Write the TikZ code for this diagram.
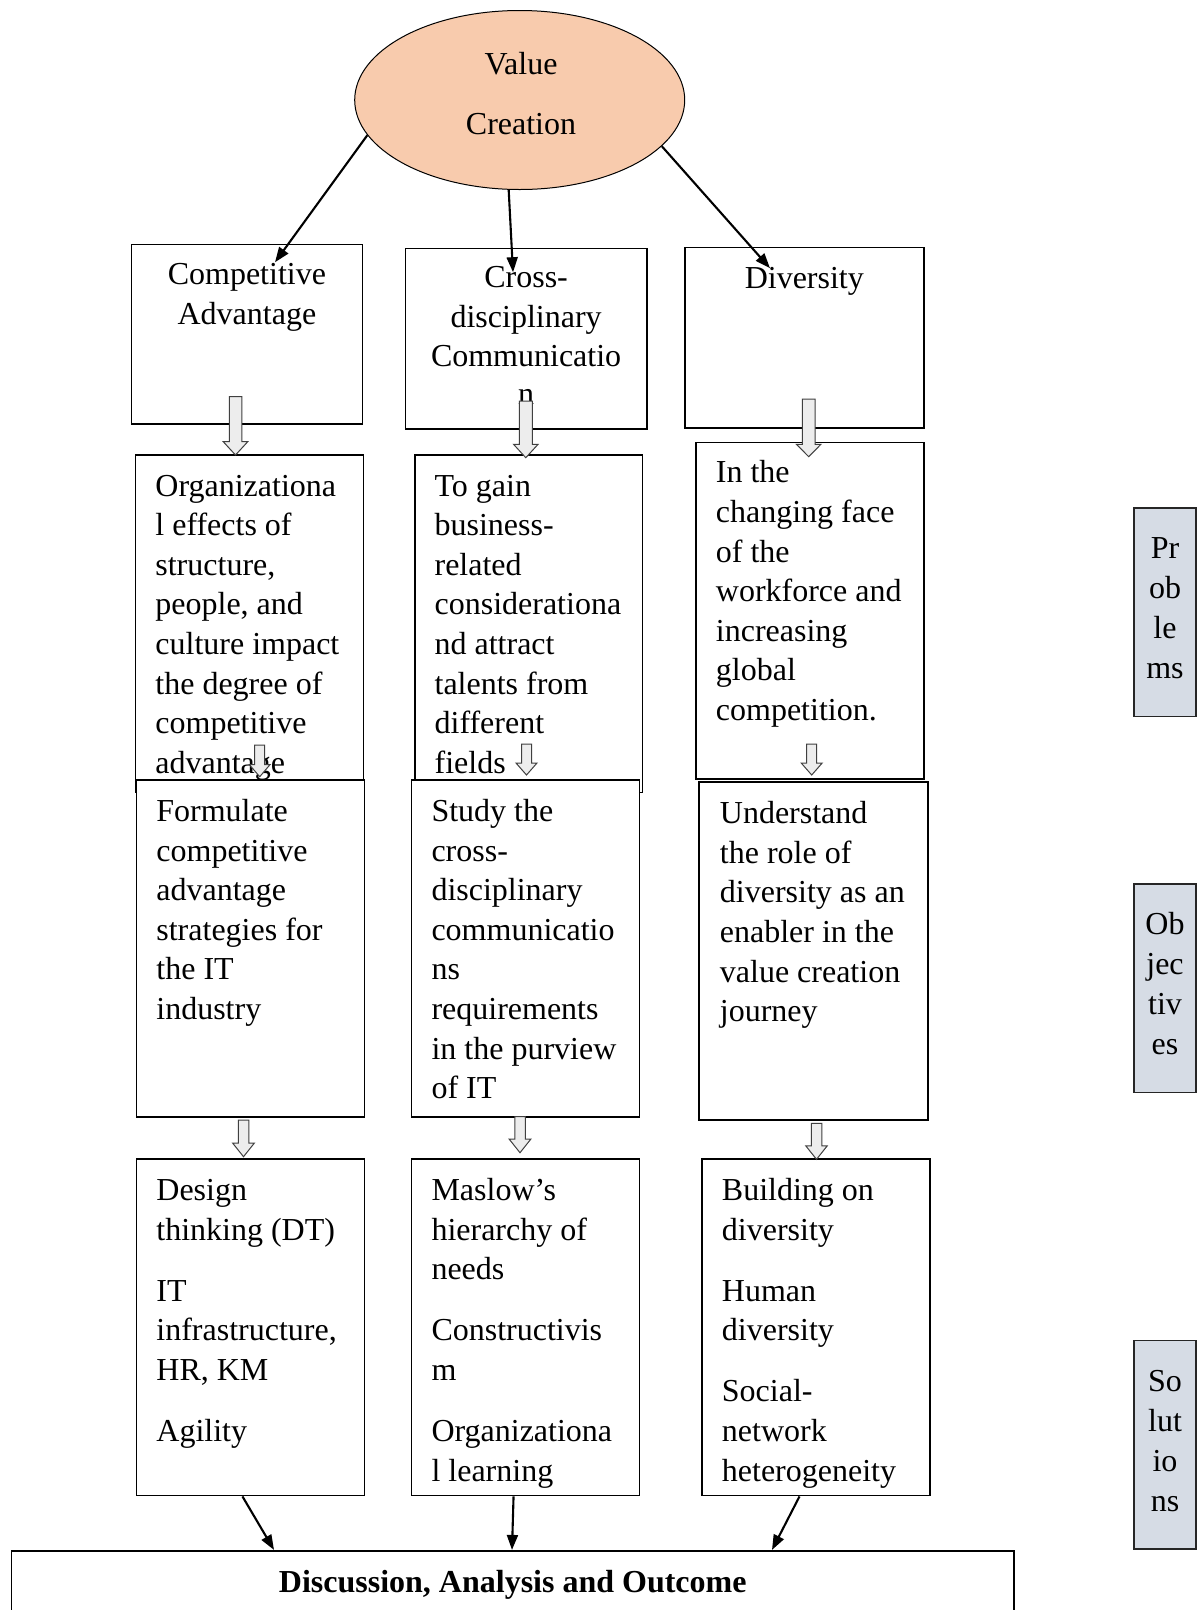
\documentclass[tikz,border=0pt]{standalone}
\usepackage{fontspec}
\setmainfont{Liberation Serif}
\usetikzlibrary{arrows.meta,calc,shapes.geometric}
\definecolor{peach}{HTML}{F8CBAD}
\definecolor{sideblue}{HTML}{D6DCE5}
\newcommand{\blockarr}[6]{%
  \draw[barrow] ({#1-#4/2},#2) -- ({#1+#4/2},#2) -- ({#1+#4/2},{#3-#6}) -- ({#1+#5/2},{#3-#6}) -- (#1,#3) -- ({#1-#5/2},{#3-#6}) -- ({#1-#4/2},{#3-#6}) -- cycle;}
\begin{document}
\begin{tikzpicture}[x=1pt,y=-1pt,
  box/.style={draw=black, line width=1.6pt, fill=white, rectangle, inner sep=0pt},
  sidebox/.style={draw=black!85, line width=1.6pt, fill=sideblue, rectangle, inner sep=0pt, minimum width=61.7, minimum height=208.4},
  txt/.style={inner sep=0pt, align=left, anchor=north west, font=\fontsize{32}{39.6}\selectfont},
  ctxt/.style={inner sep=0pt, align=center, anchor=north, font=\fontsize{32}{39.6}\selectfont},
  stxt/.style={inner sep=0pt, align=center, anchor=north, font=\fontsize{32}{40}\selectfont},
  conn/.style={line width=2.1pt, -{Triangle[length=15pt,width=11pt]}},
  barrow/.style={fill=black!7, draw=black!75, line width=1pt, line join=miter},
]
\useasboundingbox (0,0) rectangle (1199,1610);
\clip (0,0) rectangle (1199,1610);
\fill[white] (0,0) rectangle (1199,1610);

% ellipse
\node[ellipse, draw=black, line width=1pt, fill=peach, minimum width=330, minimum height=179, inner sep=0pt] (vc) at (519.7,100) {};
\node[inner sep=0pt, anchor=base, font=\fontsize{32}{39.6}\selectfont] (vt1) at (521,74) {Value};
\node[inner sep=0pt, anchor=base, font=\fontsize{32}{39.6}\selectfont] (vt2) at (521,134.5) {Creation};

% row 1
\node[box, minimum width=231, minimum height=179.7] (b1) at (246.9,334.2) {};
\node[box, minimum width=241.2, minimum height=180.6] (b2) at (526.1,338.7) {};
\node[box, minimum width=239.2, minimum height=180.6] (b3) at (804.3,337.7) {};
\node[ctxt] (t1) at ($(b1.north)+(0,13)$) {\strut Competitive\\Advantage};
\node[ctxt] (t2) at ($(b2.north)+(0,12)$) {\strut Cross-\\disciplinary\\Communicatio\\[-2pt]n};
\node[ctxt] (t3) at ($(b3.north)+(0,13.5)$) {\strut Diversity};

% row 2
\node[box, minimum width=227.9, minimum height=337.8] (b4) at (249.45,623.6) {};
\node[box, minimum width=227.9, minimum height=337.8] (b5) at (528.65,623.6) {};
\node[box, minimum width=227.9, minimum height=336.7] (b6) at (809.95,610.75) {};
\node[txt] (t4) at ($(b4.north west)+(20.5,14.3)$) {\strut Organizationa\\l effects of\\structure,\\people, and\\culture impact\\the degree of\\competitive\\advantage};
\node[txt] (t5) at ($(b5.north west)+(20.5,14.3)$) {\strut To gain\\business-\\related\\considerationa\\nd attract\\talents from\\different\\fields};
\node[txt] (t6) at ($(b6.north west)+(20.5,13.3)$) {\strut In the\\changing face\\of the\\workforce and\\increasing\\global\\competition.};

% row 3
\node[box, minimum width=227.9, minimum height=336.7] (b7) at (250.45,948.45) {};
\node[box, minimum width=227.9, minimum height=336.7] (b8) at (525.55,948.45) {};
\node[box, minimum width=229, minimum height=337.8] (b9) at (813.5,951.1) {};
\node[txt] (t7) at ($(b7.north west)+(20.5,14.3)$) {\strut Formulate\\competitive\\advantage\\strategies for\\the IT\\industry};
\node[txt] (t8) at ($(b8.north west)+(20.5,14.3)$) {\strut Study the\\cross-\\disciplinary\\communicatio\\ns\\requirements\\in the purview\\of IT};
\node[txt] (t9) at ($(b9.north west)+(21.5,14.3)$) {\strut Understand\\the role of\\diversity as an\\enabler in the\\value creation\\journey};

% row 4
\node[box, minimum width=227.9, minimum height=336.6] (b10) at (250.45,1327.3) {};
\node[box, minimum width=227.9, minimum height=336.6] (b11) at (525.55,1327.3) {};
\node[box, minimum width=228, minimum height=336.6] (b12) at (816,1327.3) {};
\node[txt] (t10) at ($(b10.north west)+(20.5,14.3)$) {\strut Design\\thinking (DT)\\[21.5pt]IT\\infrastructure,\\HR, KM\\[21.5pt]Agility};
\node[txt] (t11) at ($(b11.north west)+(20.5,14.3)$) {\strut Maslow’s\\hierarchy of\\needs\\[21.5pt]Constructivis\\m\\[21.5pt]Organizationa\\l learning};
\node[txt] (t12) at ($(b12.north west)+(20.5,14.3)$) {\strut Building on\\diversity\\[21.5pt]Human\\diversity\\[21.5pt]Social-\\network\\heterogeneity};

% output box
\node[box, minimum width=1002.9, minimum height=100] (out) at (512.75,1600.7) {};
\node[inner sep=0pt, anchor=base, font=\fontsize{32}{39.6}\selectfont\bfseries] (ot) at (512.75,1592) {Discussion, Analysis and Outcome};

% side boxes
\node[sidebox] (s1) at (1165,612.3) {};
\node[sidebox] (s2) at (1165,988.1) {};
\node[sidebox] (s3) at (1165,1444.8) {};
\node[stxt] (st1) at ($(s1.north)+(0,22.8)$) {\strut Pr\\ob\\le\\ms};
\node[stxt] (st2) at ($(s2.north)+(0,22.8)$) {\strut Ob\\jec\\tiv\\es};
\node[stxt] (st3) at ($(s3.north)+(0,23.5)$) {\strut So\\lut\\io\\ns};

% block arrows
\blockarr{235.5}{396.7}{455}{12.5}{24.5}{13.3}
\blockarr{525.8}{401}{457.7}{13}{24.5}{13.4}
\blockarr{808.7}{399}{456.7}{12.7}{24.5}{12.4}
\blockarr{259.7}{745}{776.7}{10}{20.5}{12}
\blockarr{526.5}{744}{775}{10}{21}{12}
\blockarr{811.7}{744}{775}{10}{21}{12}
\blockarr{243.5}{1120}{1156.7}{10.5}{21.5}{13.5}
\blockarr{520}{1116.7}{1152.7}{10.5}{21.5}{13.5}
\blockarr{816.5}{1123.3}{1159.3}{10.5}{21.5}{13.5}

% connectors from ellipse
\coordinate (e1) at ($(b1.north)+(28.1,18.7)$);
\coordinate (e2) at ($(b2.north)+(-13.1,24.6)$);
\coordinate (e3) at ($(b3.north)+(-34.3,21.6)$);
\draw[conn] (vc.193) -- (e1);
\draw[conn] (vc.263) -- (e2);
\draw[conn] (vc.342) -- (e3);

% connectors to output
\coordinate (f1) at ($(b10.south)+(-8,0)$);
\coordinate (f2) at ($(b11.south)+(-12,0)$);
\coordinate (f3) at ($(b12.south)+(-16.5,0)$);
\coordinate (g1) at ($(out.north)+(-238.75,0)$);
\coordinate (g2) at ($(out.north)+(-0.75,0)$);
\coordinate (g3) at ($(out.north)+(259.25,0)$);
\draw[conn] (f1) -- (g1);
\draw[conn] (f2) -- (g2);
\draw[conn] (f3) -- (g3);
\end{tikzpicture}
\end{document}
